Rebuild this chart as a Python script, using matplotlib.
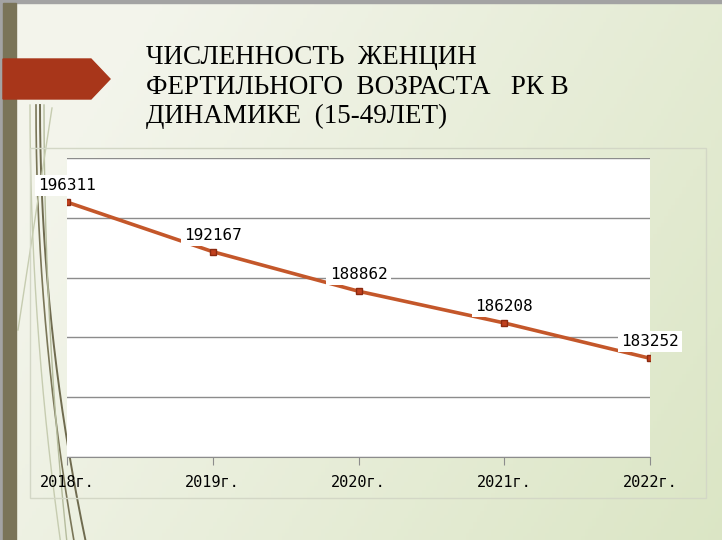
import numpy as np
import matplotlib.pyplot as plt
from matplotlib.patches import Polygon, Rectangle

# ------------------------------
# Data
# ------------------------------
years = ["2018г.", "2019г.", "2020г.", "2021г.", "2022г."]
women = [196311, 192167, 188862, 186208, 183252]

title_lines = ["ЧИСЛЕННОСТЬ  ЖЕНЦИН",
               "ФЕРТИЛЬНОГО  ВОЗРАСТА   РК В",
               "ДИНАМИКЕ  (15-49ЛЕТ)"]

W, H = 722, 540
fig = plt.figure(figsize=(W / 100, H / 100), dpi=100)

# ------------------------------
# Slide background (pixel coordinates)
# ------------------------------
bg = fig.add_axes([0, 0, 1, 1])
bg.set_xlim(0, W)
bg.set_ylim(H, 0)
bg.axis("off")

gx = np.linspace(0, 1, 200)
gy = np.linspace(0, 1, 150)
GX, GY = np.meshgrid(gx, gy)
t = np.clip(0.75 * GX + 0.35 * GY - 0.15, 0, 1)[..., None]
c0 = np.array([0.955, 0.96, 0.925])
c1 = np.array([0.855, 0.898, 0.765])
img = c0 * (1 - t) + c1 * t
bg.imshow(img, extent=[0, W, H, 0], aspect="auto", zorder=0)

# decorative thin curves on the left (grass-like blades)
yy = np.linspace(105, 540, 200)
for a, b, col, lw in [(40, 0.00024, "#6f6b4f", 1.4), (36, 0.00020, "#7a7658", 1.2),
                      (44, 0.00012, "#b5bc9d", 1.0), (30, 0.00016, "#c6ccb0", 1.0)]:
    xx = a + b * (yy - 105) ** 2
    bg.plot(xx, yy, color=col, lw=lw, zorder=1)
bg.plot([52, 18], [108, 330], color="#c6ccb0", lw=1, zorder=1)

bg.add_patch(Rectangle((0, 0), W, 3, color="#a3a3a3", zorder=2))
bg.add_patch(Rectangle((0, 0), 3, H, color="#a3a3a3", zorder=2))
bg.add_patch(Rectangle((3, 3), 13, H, color="#7a7458", zorder=2))
bg.add_patch(Polygon([(3, 59), (91, 59), (110, 79), (91, 99), (3, 99)],
                     closed=True, color="#a8361a", zorder=3))

# chart container
bg.add_patch(Rectangle((30, 148), 676, 350, fill=False, ec="#d3d7c6", lw=1, zorder=2))

for i, line in enumerate(title_lines):
    bg.text(146, 58 + i * 29, line, fontsize=19.5, family="Liberation Serif",
            color="black", va="center", ha="left", zorder=4)

# ------------------------------
# Line chart
# ------------------------------
ax = fig.add_axes([67 / W, 1 - 457 / H, (650 - 67) / W, (457 - 158) / H])
ax.set_facecolor("white")
x = np.arange(len(years))
ax.plot(x, women, color="#c4572a", lw=2.6, zorder=3,
        marker="s", markersize=5, markerfacecolor="#c0401e", markeredgecolor="#8b2a10")

ax.set_xlim(0, len(years) - 1)
ax.set_ylim(175000, 200000)
ax.set_yticks(np.arange(175000, 200001, 5000))
ax.yaxis.grid(True, color="#8c8c8c", lw=1)
ax.tick_params(axis="y", left=False, labelleft=False)
ax.set_xticks(x)
ax.set_xticklabels(years, family="DejaVu Sans Mono", fontsize=11)
ax.tick_params(axis="x", length=6, color="#8c8c8c", pad=7)
for s in ["left", "right", "top"]:
    ax.spines[s].set_visible(False)
ax.spines["bottom"].set_color("#8c8c8c")

for xi, v in zip(x, women):
    ax.annotate(str(v), (xi, v), xytext=(0, 12), textcoords="offset points",
                ha="center", va="center", fontsize=11.5, family="DejaVu Sans Mono",
                bbox=dict(boxstyle="square,pad=0.2", fc="white", ec="none"),
                annotation_clip=False, zorder=4)

fig.savefig("out.png", dpi=100)
